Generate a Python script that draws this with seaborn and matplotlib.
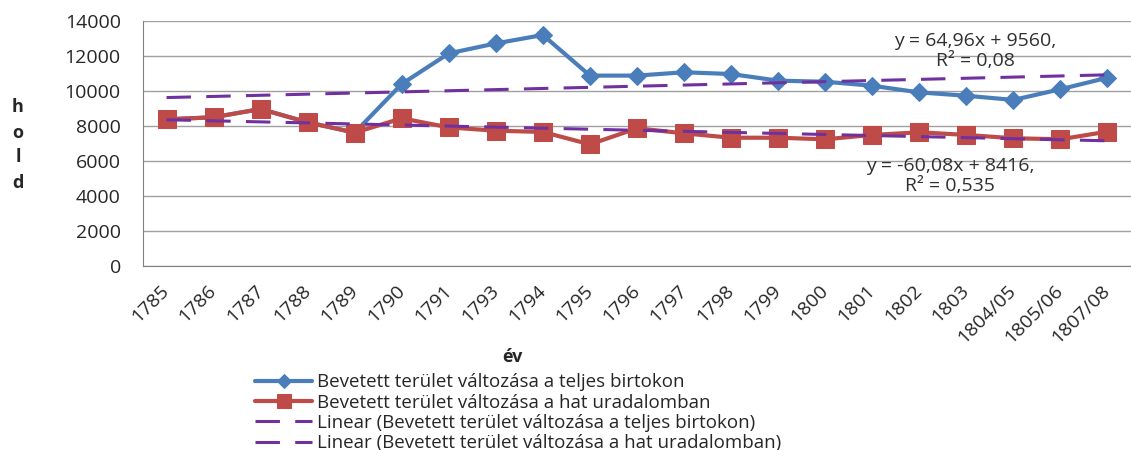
import numpy as np
import matplotlib
matplotlib.use("Agg")
import matplotlib.pyplot as plt
import seaborn as sns

# categories (years)
years = ["1785", "1786", "1787", "1788", "1789", "1790", "1791", "1793", "1794", "1795",
         "1796", "1797", "1798", "1799", "1800", "1801", "1802", "1803", "1804/05",
         "1805/06", "1807/08"]

# values (hold)
teljes = [8380, 8500, 8970, 8210, 7620, 10400, 12150, 12720, 13200, 10880,
          10880, 11070, 10970, 10590, 10530, 10300, 9920, 9730, 9490, 10100, 10760]
hat = [8380, 8500, 8970, 8210, 7620, 8440, 7920, 7730, 7660, 6950,
       7870, 7580, 7330, 7330, 7240, 7490, 7640, 7490, 7300, 7240, 7680]

# Excel trendline coefficients (x = 1..n)
trend_teljes = (64.96, 9560)
trend_hat = (-60.08, 8416)

name_teljes = "Bevetett terület változása a teljes birtokon"
name_hat = "Bevetett terület változása a hat uradalomban"

sns.set_style("white")
plt.rcParams['font.family'] = ['Open Sans', 'DejaVu Sans']

fig = plt.figure(figsize=(11.31, 4.5), dpi=100)
ax = fig.add_axes([143 / 1131, 1 - 266 / 450, (1131 - 143) / 1131, 245 / 450])

pos = np.arange(len(years))
xn = pos + 1

sns.lineplot(x=pos, y=teljes, ax=ax, color="#4A7EBB", lw=3, marker="D", markersize=9,
             markeredgecolor="#4A7EBB", label=name_teljes, zorder=3)
sns.lineplot(x=pos, y=hat, ax=ax, color="#BE4B48", lw=3, marker="s", markersize=13,
             markeredgecolor="#BE4B48", label=name_hat, zorder=4)
sns.lineplot(x=pos, y=trend_teljes[0] * xn + trend_teljes[1], ax=ax, color="#7030A0",
             lw=2.2, dashes=(8, 5), label="Linear (" + name_teljes + ")", zorder=5)
sns.lineplot(x=pos, y=trend_hat[0] * xn + trend_hat[1], ax=ax, color="#7030A0",
             lw=2.2, dashes=(8, 5), label="Linear (" + name_hat + ")", zorder=5)

ax.set_xlim(-0.5, len(years) - 0.5)
ax.set_ylim(0, 14000)
ax.set_yticks(range(0, 14001, 2000))
ax.yaxis.grid(True, color="#a0a0a0", lw=1)
ax.set_xticks(pos)
ax.set_xticklabels(years, rotation=45, ha="right", va="center", rotation_mode="anchor", fontsize=14)
ax.set_xticks(np.arange(-0.5, len(years)), minor=True)
ax.tick_params(axis="x", which="major", length=0, pad=16)
ax.tick_params(axis="x", which="minor", length=6, color="#808080", direction="out")
ax.tick_params(axis="y", length=6, color="#808080", direction="out", labelsize=14, pad=10)
for s in ["top", "right"]:
    ax.spines[s].set_visible(False)
for s in ["left", "bottom"]:
    ax.spines[s].set_color("#808080")

ax.set_xlabel("év", fontsize=13, fontweight="bold")
ax.xaxis.set_label_coords((512 - 143) / 988, (266 - 348) / 245)
fig.text(18 / 1131, 1 - 145 / 450, "h\no\nl\nd", fontsize=13, fontweight="bold",
         ha="center", va="center", linespacing=1.5)

ax.text((975 - 143) / 988, (266 - 51) / 245, "y = 64,96x + 9560,\nR² = 0,08",
        transform=ax.transAxes, ha="center", va="center", fontsize=14,
        color="#303030", linespacing=1.15)
ax.text((950 - 143) / 988, (266 - 176) / 245, "y = -60,08x + 8416,\nR² = 0,535",
        transform=ax.transAxes, ha="center", va="center", fontsize=14,
        color="#303030", linespacing=1.15)

ax.legend(loc="upper left", bbox_to_anchor=(246 / 1131, 1 - 364 / 450),
          bbox_transform=fig.transFigure, frameon=False, fontsize=13.5, markerscale=0.8,
          handlelength=3.0, labelspacing=0.12, borderpad=0, handletextpad=0.3)

fig.savefig("out.png", dpi=100)
